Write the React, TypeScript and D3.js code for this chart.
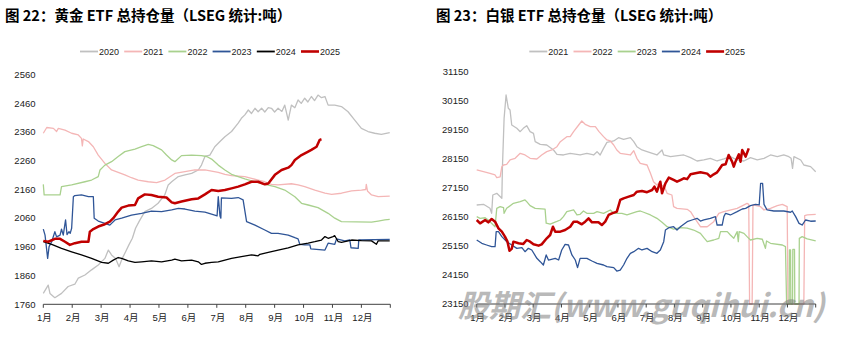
import React from "react";
import * as d3 from "d3";

const MONTHS = ["1月","2月","3月","4月","5月","6月","7月","8月","9月","10月","11月","12月"];
const GOLD_TICKS = [1760,1860,1960,2060,2160,2260,2360,2460,2560];
const SILVER_TICKS = [23150,24150,25150,26150,27150,28150,29150,30150,31150];
const GOLD_YEARS = ["2020","2021","2022","2023","2024","2025"];
const SILVER_YEARS = ["2021","2022","2023","2024","2025"];

type P = [number, number];

const gold2020: P[] = [[0,1798],[0.17,1827],[0.23,1798],[0.4,1783],[0.63,1798],[0.86,1822],[1.09,1830],[1.21,1851],[1.44,1862],[1.67,1880],[1.9,1897],[2.13,1920],[2.25,1949],[2.36,1932],[2.5,1920],[2.62,1891],[2.73,1920],[2.85,1944],[2.96,1967],[3.08,1990],[3.19,2025],[3.31,2048],[3.51,2083],[3.74,2094],[3.97,2112],[4.2,2141],[4.32,2176],[4.44,2187],[4.67,2205],[4.9,2211],[5.13,2216],[5.36,2228],[5.47,2245],[5.59,2275],[5.76,2280],[5.93,2309],[6.11,2327],[6.28,2344],[6.51,2362],[6.74,2391],[6.85,2408],[6.97,2420],[7.09,2437],[7.2,2425],[7.32,2443],[7.43,2431],[7.55,2443],[7.66,2430],[7.78,2445],[7.89,2443],[8.0,2430],[8.12,2443],[8.25,2432],[8.35,2454],[8.47,2402],[8.58,2454],[8.7,2445],[8.81,2472],[8.92,2460],[9.04,2478],[9.15,2465],[9.27,2484],[9.38,2470],[9.5,2489],[9.62,2480],[9.74,2484],[9.85,2454],[10.08,2454],[10.31,2449],[10.54,2431],[10.77,2402],[11.0,2373],[11.23,2362],[11.46,2356],[11.69,2352],[11.98,2358]];
const gold2021: P[] = [[0,2356],[0.12,2376],[0.35,2373],[0.46,2362],[0.52,2373],[0.75,2367],[0.98,2356],[1.21,2350],[1.32,2338],[1.35,2312],[1.38,2336],[1.56,2327],[1.73,2309],[1.9,2280],[2.13,2251],[2.36,2228],[2.59,2220],[2.82,2211],[3.05,2201],[3.28,2193],[3.63,2187],[3.92,2184],[4.21,2193],[4.55,2216],[4.9,2222],[5.24,2228],[5.59,2228],[6.05,2220],[6.28,2213],[6.51,2208],[6.97,2205],[7.2,2199],[7.43,2193],[7.66,2187],[7.89,2178],[8.12,2176],[8.58,2180],[8.81,2176],[9.04,2170],[9.39,2158],[9.74,2147],[9.97,2143],[10.31,2147],[10.66,2155],[11.0,2158],[11.15,2160],[11.17,2178],[11.21,2155],[11.35,2141],[11.58,2135],[11.98,2137]];
const gold2022: P[] = [[0,2178],[0.03,2141],[0.58,2141],[0.63,2170],[0.98,2176],[1.44,2187],[1.67,2193],[1.9,2205],[1.96,2228],[2.13,2245],[2.36,2257],[2.59,2275],[2.82,2292],[3.17,2301],[3.4,2309],[3.63,2317],[3.8,2313],[4.09,2298],[4.26,2280],[4.44,2263],[4.55,2257],[4.78,2278],[5.13,2280],[5.47,2278],[5.65,2275],[5.82,2266],[6.05,2245],[6.28,2228],[6.51,2213],[6.74,2205],[6.97,2197],[7.32,2187],[7.66,2178],[8.01,2170],[8.35,2158],[8.7,2135],[8.93,2112],[9.16,2106],[9.5,2097],[9.85,2077],[10.08,2060],[10.31,2048],[11.35,2046],[11.58,2050],[11.81,2054],[11.98,2056]];
const gold2023: P[] = [[0,2022],[0.06,2001],[0.15,1920],[0.2,1961],[0.29,1978],[0.4,2013],[0.46,1995],[0.58,2001],[0.63,2022],[0.69,2001],[0.77,2054],[0.82,2003],[0.89,2013],[0.93,2007],[0.98,2025],[1.04,2135],[1.09,2139],[1.32,2141],[1.56,2135],[1.73,2135],[1.76,2060],[1.9,2050],[2.13,2042],[2.3,2036],[2.48,2054],[2.71,2060],[3.05,2071],[3.4,2077],[3.74,2085],[4.09,2083],[4.44,2089],[4.67,2094],[4.9,2092],[5.24,2085],[5.59,2081],[5.93,2071],[6.01,2068],[6.05,2135],[6.11,2068],[6.14,2060],[6.16,2131],[6.51,2129],[6.74,2132],[6.91,2124],[7.03,2048],[7.32,2036],[7.66,2019],[7.89,2007],[8.12,2007],[8.47,2001],[8.7,1992],[8.81,1988],[8.87,1969],[9.04,1967],[9.22,1967],[9.25,1953],[9.74,1949],[9.85,1973],[10.08,1969],[10.14,1988],[10.43,1981],[10.6,1984],[10.64,1957],[10.89,1955],[10.91,1984],[11.98,1986]];
const gold2024: P[] = [[0,1978],[0.29,1969],[0.63,1955],[0.98,1943],[1.32,1932],[1.67,1920],[2.02,1906],[2.25,1903],[2.42,1914],[2.59,1923],[2.71,1920],[2.94,1911],[3.17,1906],[3.4,1908],[3.74,1911],[4.09,1908],[4.44,1914],[4.55,1917],[4.78,1911],[5.13,1914],[5.36,1908],[5.47,1899],[5.59,1903],[5.82,1906],[6.05,1908],[6.28,1914],[6.51,1920],[6.85,1926],[7.2,1932],[7.43,1929],[7.49,1934],[7.78,1941],[8.12,1949],[8.47,1957],[8.81,1967],[9.16,1973],[9.39,1978],[9.62,1984],[9.74,1996],[9.85,1990],[10.02,1996],[10.08,1999],[10.2,1978],[10.31,1976],[10.66,1984],[11.0,1982],[11.35,1981],[11.52,1969],[11.58,1981],[11.98,1981]];
const gold2025: P[] = [[0,1981],[0.17,1978],[0.4,1988],[0.58,1988],[0.75,1978],[0.92,1967],[1.09,1973],[1.32,1978],[1.56,1978],[1.61,2013],[1.73,2022],[1.9,2031],[2.13,2039],[2.3,2048],[2.42,2060],[2.59,2083],[2.71,2097],[2.94,2104],[3.17,2106],[3.28,2129],[3.51,2143],[3.74,2141],[3.97,2135],[4.26,2132],[4.44,2115],[4.55,2112],[4.78,2118],[5.13,2126],[5.36,2129],[5.59,2143],[5.82,2158],[6.05,2155],[6.28,2158],[6.51,2164],[6.74,2170],[6.97,2178],[7.2,2187],[7.43,2187],[7.66,2178],[7.78,2181],[8.01,2211],[8.24,2228],[8.47,2236],[8.58,2245],[8.7,2263],[8.93,2280],[9.16,2292],[9.27,2298],[9.45,2309],[9.56,2333],[9.62,2335]];

const silver2021: P[] = [[0,26560],[0.24,26583],[0.47,26445],[0.53,26273],[0.57,26904],[0.71,26961],[0.89,26789],[0.91,27822],[0.97,29544],[1.04,30348],[1.12,29889],[1.18,29832],[1.24,29315],[1.42,29200],[1.54,29085],[1.65,29200],[1.77,29292],[1.89,29085],[2.01,29028],[2.07,28741],[2.25,28649],[2.48,28626],[2.72,28454],[2.84,28305],[3.07,28282],[3.31,28339],[3.66,28282],[3.9,28339],[4.14,28282],[4.26,28396],[4.37,28282],[4.49,28511],[4.61,28718],[4.85,28764],[5.02,28878],[5.2,28820],[5.44,28878],[5.56,28741],[5.67,28568],[5.85,28454],[6.03,28396],[6.38,28282],[6.56,28454],[6.62,28282],[6.86,28224],[7.33,28282],[7.57,28190],[7.8,28075],[8.04,28110],[8.27,28167],[8.51,28075],[8.75,28144],[8.98,28224],[9.22,28110],[9.46,28075],[9.69,28190],[9.93,28110],[10.17,28167],[10.4,28282],[10.64,28224],[10.87,28282],[11.05,28224],[11.13,28167],[11.18,27822],[11.23,28224],[11.47,28110],[11.58,27937],[11.82,27880],[12.0,27707]];
const silver2022: P[] = [[0,27765],[0.24,27707],[0.47,27650],[0.65,27593],[0.71,27501],[0.83,27530],[0.89,27880],[0.95,27937],[1.06,27960],[1.18,28110],[1.36,28167],[1.54,28339],[1.71,28282],[1.89,28167],[2.13,28144],[2.3,28282],[2.48,28396],[2.66,28454],[2.84,28568],[2.96,28741],[3.19,28913],[3.31,28913],[3.43,29085],[3.61,29315],[3.72,29452],[3.84,29338],[4.02,29257],[4.2,29257],[4.33,29085],[4.49,28913],[4.61,28798],[4.73,28764],[4.85,28626],[4.96,28454],[5.08,28339],[5.32,28305],[5.44,28282],[5.56,28431],[5.67,28167],[5.79,27995],[6.03,27937],[6.15,27650],[6.26,27363],[6.38,27248],[6.5,27363],[6.56,27191],[6.62,27248],[6.74,26961],[6.91,26904],[6.97,26502],[7.09,26445],[7.45,26411],[7.57,26330],[7.68,26158],[7.8,25985],[7.92,25811],[8.16,25811],[8.39,25985],[8.57,26273],[8.75,26330],[9.22,26445],[9.57,26617],[9.63,26583],[9.66,23150],[9.75,23150],[9.78,26560],[10.05,26502],[10.17,26388],[10.4,26445],[10.64,26537],[10.82,26583],[10.99,26502],[11.02,23150],[11.58,23150],[11.61,26192],[11.7,26216],[12.0,26238]];
const silver2023: P[] = [[0,26158],[0.12,26100],[0.3,26120],[0.41,26043],[0.47,25985],[0.65,25811],[0.71,26445],[0.83,26502],[0.95,26470],[0.97,26273],[1.06,26445],[1.3,26617],[1.54,26675],[1.71,26732],[1.77,26675],[1.89,26537],[2.07,26445],[2.42,26420],[2.46,25935],[2.6,25901],[2.84,25993],[2.96,26043],[3.07,26158],[3.19,26330],[3.43,26388],[3.55,26216],[3.66,26240],[3.78,26353],[3.9,26273],[4.14,26273],[4.26,26330],[4.49,26273],[4.73,26388],[4.85,26273],[5.14,26273],[5.32,26216],[5.67,26330],[5.79,26353],[5.91,26310],[6.15,26216],[6.38,26100],[6.56,25962],[6.74,25811],[6.97,25732],[7.21,25778],[7.45,25760],[7.68,25698],[7.92,25584],[8.04,25435],[8.16,25297],[8.39,25354],[8.57,25412],[8.63,25641],[8.87,25641],[8.98,25526],[9.1,25412],[9.22,25641],[9.26,25297],[9.29,25641],[9.46,25584],[9.57,25470],[9.69,25354],[9.93,25412],[10.11,25380],[10.22,25067],[10.26,25320],[10.4,25240],[10.82,25182],[10.93,25124],[10.97,23150],[11.06,23150],[11.07,25010],[11.11,25010],[11.12,23150],[11.18,23150],[11.19,25030],[11.25,25030],[11.26,23150],[11.41,23150],[11.42,25412],[11.52,25470],[11.7,25390],[12.0,25320]];
const silver2024: P[] = [[0,25354],[0.18,25240],[0.35,25182],[0.53,25124],[0.65,25124],[0.69,25641],[0.77,25641],[0.89,25469],[1.06,25297],[1.24,25182],[1.42,25067],[1.6,25090],[1.71,24952],[1.83,25067],[1.95,25010],[2.13,24723],[2.25,24608],[2.36,24493],[2.46,24838],[2.54,24665],[2.78,24723],[2.9,24665],[3.01,25010],[3.13,25205],[3.25,25182],[3.37,24838],[3.49,24665],[3.57,24401],[3.66,24723],[3.9,24723],[4.08,24631],[4.26,24551],[4.49,24493],[4.61,24436],[4.85,24401],[4.96,24286],[5.08,24320],[5.2,24493],[5.32,24723],[5.44,24895],[5.56,24952],[5.73,25067],[5.85,25010],[6.03,25067],[6.21,24952],[6.38,24895],[6.5,25010],[6.62,25297],[6.68,25699],[6.8,25778],[6.97,25813],[7.09,25699],[7.21,25813],[7.45,25985],[7.62,26043],[7.8,26100],[7.92,26008],[8.04,26043],[8.27,26100],[8.45,26158],[8.51,25870],[8.69,25870],[8.75,26158],[8.81,26273],[8.98,26216],[9.22,26330],[9.4,26422],[9.52,26445],[9.69,26537],[9.87,26583],[10.0,26560],[10.05,27306],[10.12,27306],[10.17,26583],[10.28,26388],[10.52,26353],[10.87,26353],[11.11,26310],[11.17,26353],[11.29,26158],[11.41,25928],[11.52,25870],[11.64,26043],[11.82,26000],[12.0,26009]];
const silver2025: P[] = [[0,26043],[0.12,25928],[0.3,26043],[0.41,25962],[0.53,26078],[0.65,25985],[0.77,25756],[0.89,25641],[1.0,25469],[1.09,25297],[1.16,24987],[1.24,25050],[1.3,25297],[1.48,25240],[1.65,25220],[1.77,25354],[1.89,25297],[2.01,25205],[2.19,25159],[2.3,25205],[2.48,25412],[2.6,25526],[2.7,25813],[2.78,25641],[2.96,25641],[3.13,25698],[3.31,25813],[3.43,25985],[3.55,25985],[3.72,25894],[3.84,25985],[3.96,26100],[4.08,25962],[4.31,25962],[4.43,25870],[4.55,25985],[4.67,26216],[4.79,26273],[4.96,26330],[5.08,26732],[5.2,26789],[5.38,26846],[5.56,26904],[5.67,27019],[5.85,27042],[6.03,27000],[6.21,27076],[6.29,27191],[6.38,27019],[6.5,27363],[6.56,26961],[6.68,27306],[6.8,27501],[6.97,27421],[7.09,27363],[7.21,27420],[7.33,27478],[7.45,27450],[7.57,27616],[7.74,27650],[7.92,27684],[8.16,27640],[8.27,27535],[8.39,27616],[8.51,27684],[8.57,27765],[8.69,27937],[8.81,27960],[8.92,28282],[9.04,28052],[9.1,27880],[9.16,28052],[9.28,28305],[9.34,28052],[9.4,28454],[9.52,28224],[9.63,28511]];

const GOLD_COLORS = ["#c0c0c0", "#f4b6b6", "#a9d18e", "#2f5597", "#000000", "#c00000"];
const SILVER_COLORS = ["#c0c0c0", "#f4b6b6", "#a9d18e", "#2f5597", "#c00000"];

const TICK_FONT = "'Liberation Sans Narrow', 'Liberation Sans', 'Noto Sans CJK SC', sans-serif";
const TITLE_FONT = "'Noto Sans CJK SC', 'Liberation Sans', sans-serif";

interface PanelProps {
  title: string;
  titleX: number;
  x0: number; x1: number;
  yMin: number; yMax: number;
  yTop: number; yBottom: number;
  ticks: number[];
  labelRight: number;
  legendX: number;
  years: string[];
  colors: string[];
  series: P[][];
}

function Panel(p: PanelProps) {
  const x = d3.scaleLinear().domain([0, 12]).range([p.x0, p.x1]);
  const y = d3.scaleLinear().domain([p.yMin, p.yMax]).range([p.yBottom, p.yTop]);
  const line = d3.line<P>().x(d => x(d[0])).y(d => y(Math.max(p.yMin, d[1])));
  const monthTicks = d3.range(0, 13);
  const last = p.years.length - 1;
  return (
    <g>
      <text x={p.titleX} y={21} fontFamily={TITLE_FONT} fontWeight="bold" fontSize={14.5} fill="#000">{p.title}</text>
      {p.years.map((yr, i) => {
        const lx = p.legendX + i * 44.2;
        return (
          <g key={yr}>
            <line x1={lx} x2={lx + 18} y1={51.5} y2={51.5} stroke={p.colors[i]} strokeWidth={i === last ? 2.6 : 1.8} />
            <text x={lx + 19} y={54.7} fontFamily={TICK_FONT} fontSize={9} fill="#222">{yr}</text>
          </g>
        );
      })}
      {p.ticks.map(t => (
        <text key={t} x={p.labelRight} y={y(t) + 3.2} textAnchor="end" fontFamily={TICK_FONT} fontSize={9.5} fill="#222">{t}</text>
      ))}
      {p.series.map((s, i) => (
        <path key={p.years[i]} d={line(s) || ""} fill="none" stroke={p.colors[i]}
          strokeWidth={i === last ? 2.5 : 1.3} strokeLinejoin="round" />
      ))}
      <line x1={p.x0} x2={p.x1} y1={p.yBottom} y2={p.yBottom} stroke="#404040" strokeWidth={1} />
      {monthTicks.map(m => (
        <line key={m} x1={x(m)} x2={x(m)} y1={p.yBottom} y2={p.yBottom + 3.5} stroke="#404040" strokeWidth={1} />
      ))}
      {MONTHS.map((lab, i) => (
        <text key={lab} x={x(i) + 1} y={320.5} textAnchor="middle" fontFamily={TICK_FONT} fontSize={9.5} fill="#222">{lab}</text>
      ))}
    </g>
  );
}

export default function App() {
  return (
    <svg width={860} height={337} style={{ position: "absolute", left: 0, top: 0, background: "#fff" }}>
      <rect x={0} y={0} width={860} height={337} fill="#fff" />
      <Panel
        title="图 22：黄金 ETF 总持仓量（LSEG 统计:吨）"
        titleX={5}
        x0={43.3} x1={390.3}
        yMin={1760} yMax={2560}
        yTop={74.7} yBottom={304.3}
        ticks={GOLD_TICKS}
        labelRight={35.5}
        legendX={80}
        years={GOLD_YEARS}
        colors={GOLD_COLORS}
        series={[gold2020, gold2021, gold2022, gold2023, gold2024, gold2025]}
      />
      <Panel
        title="图 23：白银 ETF 总持仓量（LSEG 统计:吨）"
        titleX={436}
        x0={476.7} x1={815.7}
        yMin={23150} yMax={31150}
        yTop={71.7} yBottom={304}
        ticks={SILVER_TICKS}
        labelRight={468.5}
        legendX={529.3}
        years={SILVER_YEARS}
        colors={SILVER_COLORS}
        series={[silver2021, silver2022, silver2023, silver2024, silver2025]}
      />
      <text x={458} y={317} fontFamily={TITLE_FONT} fontStyle="italic" fontWeight="bold" fontSize={31}
        fill="#808080" opacity={0.55}>股期汇(www.guqihui.cn)</text>
    </svg>
  );
}
